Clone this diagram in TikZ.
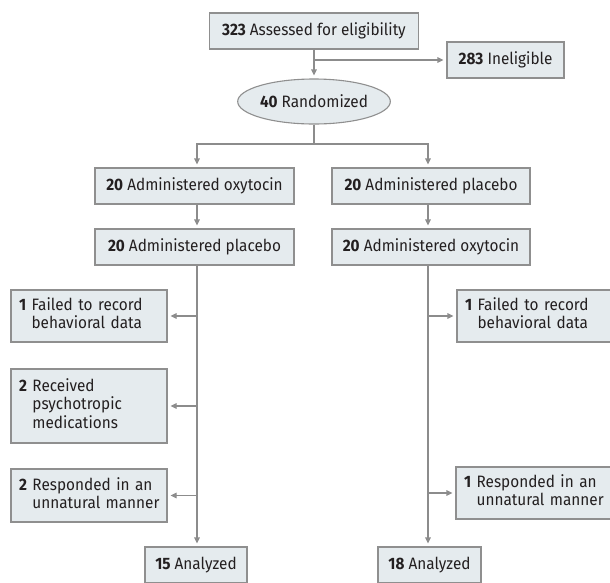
\documentclass[tikz,border=0pt]{standalone}
\usepackage{fontspec}
\setmainfont[FakeStretch=0.93]{Fira Sans}
\usetikzlibrary{arrows.meta,shapes.geometric}
\definecolor{boxfill}{HTML}{E5EBEE}
\definecolor{boxline}{HTML}{8F8F8F}
\definecolor{conn}{HTML}{8C8C8C}
\definecolor{txt}{HTML}{231F20}
\newcommand{\twol}[3]{\begin{tabular}{@{}l@{\ }l@{}}\textbf{#1} & #2\\ & #3\end{tabular}}
\newcommand{\threel}[4]{\begin{tabular}{@{}l@{\ }l@{}}\textbf{#1} & #2\\ & #3\\ & #4\end{tabular}}
\begin{document}
\begin{tikzpicture}[x=1pt,y=-1pt,
  box/.style={draw=boxline, fill=boxfill, line width=1.1pt, inner sep=0pt, text=txt,
    font=\fontsize{16.5}{18.3}\selectfont, minimum height=36pt},
  side/.style={box, text width=140pt, inner xsep=8pt, inner ysep=0pt, align=left},
  arr/.style={draw=conn, line width=1.1pt, -{Triangle[length=6pt,width=5.5pt]}, shorten >=3pt},
  ln/.style={draw=conn, line width=1.1pt}]
\useasboundingbox (0,0) rectangle (610,582);
\clip (0,0) rectangle (610,582);
% nodes
\node[box, minimum width=209pt] (elig) at (314,31) {\textbf{323}\ Assessed for eligibility};
\node[box, minimum width=117pt] (inel) at (505.5,60) {\textbf{283}\ Ineligible};
\node[box, ellipse, minimum width=140pt, minimum height=45pt] (rand) at (314,101.5) {\textbf{40}\ Randomized};
\node[box, minimum width=199pt] (ox1) at (194.5,186) {\textbf{20}\ Administered oxytocin};
\node[box, minimum width=198pt] (pl1) at (431,186) {\textbf{20}\ Administered placebo};
\node[box, minimum width=199pt] (pl2) at (194.5,247) {\textbf{20}\ Administered placebo};
\node[box, minimum width=198pt] (ox2) at (431,247) {\textbf{20}\ Administered oxytocin};
\node[side, minimum height=52pt] (f1) at (89,316) {\twol{1}{Failed to record}{behavioral data}};
\node[side, minimum height=74pt] (r2) at (89,406) {\threel{2}{Received}{psychotropic}{medications}};
\node[side, minimum height=53pt] (u2) at (89,495.5) {\twol{2}{Responded in an}{unnatural manner}};
\node[side, minimum height=52pt] (f1r) at (535,316) {\twol{1}{Failed to record}{behavioral data}};
\node[side, minimum height=52pt] (u1r) at (534,493) {\twol{1}{Responded in an}{unnatural manner}};
\node[box, minimum width=102pt] (a15) at (196,565) {\textbf{15}\ Analyzed};
\node[box, minimum width=103pt] (a18) at (429.5,565) {\textbf{18}\ Analyzed};
% reference coordinates
\coordinate (cL) at (197,0);
\coordinate (cR) at (428,0);
\coordinate (br) at (0,144);
% connectors
\draw[arr] (elig.south) -- (rand.north);
\draw[arr] (elig.south |- inel.west) -- (inel.west);
\draw[arr] (rand.south) -- (rand.south |- br) -| (cL |- ox1.north);
\draw[arr] (rand.south |- br) -| (cR |- pl1.north);
\draw[arr] (cL |- ox1.south) -- (cL |- pl2.north);
\draw[arr] (cR |- pl1.south) -- (cR |- ox2.north);
\draw[arr] (cL |- pl2.south) -- (cL |- a15.north);
\draw[arr] (cR |- ox2.south) -- (cR |- a18.north);
\draw[arr] (cL |- f1.east) -- (f1.east);
\draw[arr] (cL |- r2.east) -- (r2.east);
\draw[arr] (cL |- u2.east) -- (u2.east);
\draw[arr] (cR |- f1r.west) -- (f1r.west);
\draw[arr] (cR |- u1r.west) -- (u1r.west);
\end{tikzpicture}
\end{document}
